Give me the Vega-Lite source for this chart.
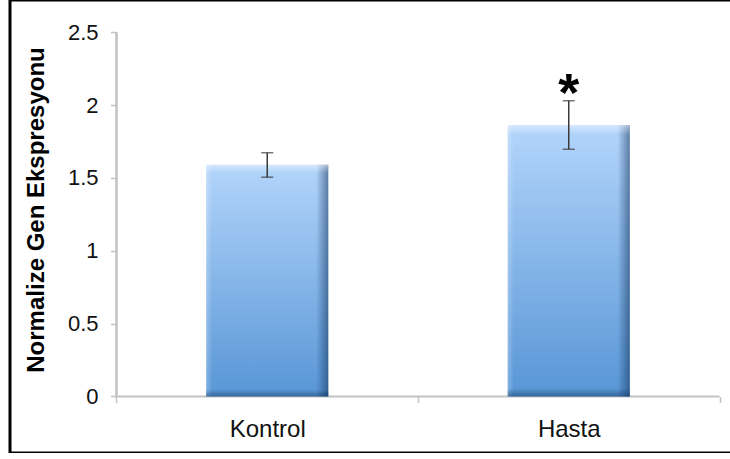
{
  "$schema": "https://vega.github.io/schema/vega-lite/v6.json",
  "width": 722,
  "height": 453,
  "autosize": {"type": "none"},
  "padding": {"left": 10, "top": 0, "right": 0, "bottom": 0},
  "background": "white",
  "view": {"stroke": "black", "strokeWidth": 3},
  "config": {"font": "Liberation Sans"},
  "data": {
    "values": [
      {"grup": "Kontrol", "mean": 1.59, "lo": 1.505, "hi": 1.673, "sig": ""},
      {"grup": "Hasta", "mean": 1.863, "lo": 1.697, "hi": 2.03, "sig": "*"}
    ]
  },
  "encoding": {
    "x": {
      "field": "grup",
      "type": "nominal",
      "sort": null,
      "title": null,
      "scale": {"domain": ["Kontrol", "Hasta"], "paddingInner": 0, "paddingOuter": 0.1973, "align": 0.895, "round": false},
      "axis": {
        "orient": "bottom",
        "offset": -56.5,
        "domain": false,
        "ticks": true,
        "tickBand": "extent",
        "tickSize": 6,
        "tickColor": "#c2c2c2",
        "tickWidth": 1.5,
        "labelFont": "Liberation Sans",
        "labelFontSize": 24,
        "labelColor": "#111111",
        "labelPadding": 15,
        "labelAngle": 0,
        "grid": false
      }
    },
    "y": {
      "field": "mean",
      "type": "quantitative",
      "title": "Normalize Gen Ekspresyonu",
      "scale": {"domain": [-0.3878, 2.7213], "nice": false, "zero": false},
      "axis": {
        "orient": "left",
        "offset": -106.5,
        "values": [0, 0.5, 1, 1.5, 2, 2.5],
        "format": "~g",
        "domain": false,
        "grid": false,
        "ticks": true,
        "tickSize": 6,
        "tickColor": "#c2c2c2",
        "tickWidth": 1.5,
        "labelFont": "Liberation Sans",
        "labelFontSize": 22,
        "labelColor": "#111111",
        "labelPadding": 12.5,
        "title": "Normalize Gen Ekspresyonu",
        "titleFont": "Liberation Sans",
        "titleFontSize": 24,
        "titleFontWeight": "bold",
        "titleColor": "#000000",
        "titleAngle": -90,
        "titleBaseline": "alphabetic",
        "titleAlign": "center",
        "titleX": -73.5,
        "titleY": 209.5
      }
    }
  },
  "layer": [
    {
      "mark": {"type": "rule", "color": "#c2c2c2", "strokeWidth": 2},
      "encoding": {
        "x": {"datum": "Kontrol", "bandPosition": 0},
        "y": {"datum": 0, "title": "Normalize Gen Ekspresyonu"},
        "y2": {"datum": 2.5}
      }
    },
    {
      "mark": {"type": "rule", "color": "#c2c2c2", "strokeWidth": 2},
      "encoding": {
        "x": {"field": "grup", "type": "nominal", "bandPosition": 0},
        "x2": {"field": "grup", "bandPosition": 1},
        "y": {"datum": 0, "title": "Normalize Gen Ekspresyonu"}
      }
    },
    {
      "mark": {
        "type": "bar",
        "width": {"band": 0.405},
        "color": {
          "gradient": "linear",
          "x1": 0, "y1": 0, "x2": 0, "y2": 1,
          "stops": [
            {"offset": 0, "color": "#b3d5fb"},
            {"offset": 1, "color": "#5896d6"}
          ]
        }
      },
      "encoding": {
        "y": {"field": "mean", "type": "quantitative", "title": "Normalize Gen Ekspresyonu"},
        "y2": {"datum": 0}
      }
    },
    {
      "mark": {
        "type": "bar",
        "width": {"band": 0.405},
        "color": {
          "gradient": "linear",
          "x1": 0, "y1": 0, "x2": 1, "y2": 0,
          "stops": [
            {"offset": 0, "color": "rgba(255,255,255,0.25)"},
            {"offset": 0.05, "color": "rgba(255,255,255,0)"},
            {"offset": 0.9, "color": "rgba(10,40,80,0)"},
            {"offset": 1, "color": "rgba(10,40,80,0.5)"}
          ]
        }
      },
      "encoding": {
        "y": {"field": "mean", "type": "quantitative", "title": "Normalize Gen Ekspresyonu"},
        "y2": {"datum": 0}
      }
    },
    {
      "mark": {
        "type": "bar",
        "width": {"band": 0.405},
        "color": {
          "gradient": "linear",
          "x1": 0, "y1": 0, "x2": 0, "y2": 1,
          "stops": [
            {"offset": 0, "color": "rgba(255,255,255,0.45)"},
            {"offset": 0.035, "color": "rgba(255,255,255,0)"},
            {"offset": 0.97, "color": "rgba(10,40,80,0)"},
            {"offset": 1, "color": "rgba(10,40,80,0.45)"}
          ]
        }
      },
      "encoding": {
        "y": {"field": "mean", "type": "quantitative", "title": "Normalize Gen Ekspresyonu"},
        "y2": {"datum": 0}
      }
    },
    {
      "mark": {"type": "rule", "color": "#3a3a3a", "strokeWidth": 1.5},
      "encoding": {
        "y": {"field": "lo", "type": "quantitative", "title": "Normalize Gen Ekspresyonu"},
        "y2": {"field": "hi"}
      }
    },
    {
      "mark": {"type": "tick", "color": "#3a3a3a", "thickness": 1.5, "size": 12, "orient": "horizontal"},
      "encoding": {
        "y": {"field": "lo", "type": "quantitative", "title": "Normalize Gen Ekspresyonu"}
      }
    },
    {
      "mark": {"type": "tick", "color": "#3a3a3a", "thickness": 1.5, "size": 12, "orient": "horizontal"},
      "encoding": {
        "y": {"field": "hi", "type": "quantitative", "title": "Normalize Gen Ekspresyonu"}
      }
    },
    {
      "mark": {"type": "text", "font": "Liberation Sans", "fontSize": 54, "fontWeight": "bold", "color": "#000000", "baseline": "alphabetic", "align": "center", "dy": 10},
      "encoding": {
        "y": {"field": "hi", "type": "quantitative", "title": "Normalize Gen Ekspresyonu"},
        "text": {"field": "sig"}
      }
    }
  ]
}
